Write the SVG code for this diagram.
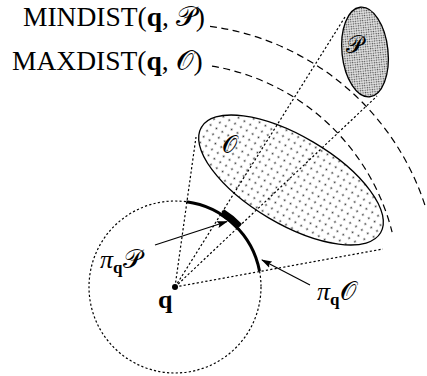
<svg xmlns="http://www.w3.org/2000/svg" width="427" height="376" viewBox="0 0 427 376">
<style>
.dot{fill:none;stroke:#000;stroke-width:1.2;stroke-dasharray:2.2 2.2}
.dash{fill:none;stroke:#000;stroke-width:1.2;stroke-dasharray:7 4.5}
.shape{stroke:#000;stroke-width:1.3}
.arrow{fill:none;stroke:#000;stroke-width:1.2}
.t{font-family:"Liberation Serif","DejaVu Serif",serif;fill:#000}
.cal{font-family:"DejaVu Serif","DejaVu Sans","Noto Sans",serif;font-style:normal;font-weight:normal}
.b{font-weight:bold;font-style:normal}
.i{font-style:italic}
</style>
<defs>
<pattern id="sparse" width="6.8" height="6.8" patternUnits="userSpaceOnUse">
<rect width="6.8" height="6.8" fill="#fff"/>
<circle cx="3.4" cy="3.4" r="0.9" fill="#333"/>
</pattern>
<pattern id="dense" width="2.4" height="2.4" patternUnits="userSpaceOnUse">
<rect width="2.4" height="2.4" fill="#e2e2e2"/>
<circle cx="1.2" cy="1.2" r="0.7" fill="#4a4a4a"/>
</pattern>
<marker id="ah" markerWidth="11" markerHeight="8" refX="10" refY="4" orient="auto" markerUnits="userSpaceOnUse">
<path d="M0,0.5 L11,4 L0,7.5 L2,4 Z" fill="#000"/>
</marker>
</defs>

<g id="shapeP">
<ellipse class="shape" cx="365" cy="52" rx="23" ry="45" transform="rotate(-6 365 52)" fill="url(#dense)"/>
</g>
<g id="shapeO">
<ellipse class="shape" cx="291" cy="180" rx="104" ry="44" transform="rotate(30.5 291 180)" fill="url(#sparse)"/>
</g>
<g id="circleQ">
<circle class="dot" cx="175" cy="287" r="86"/>
</g>

<g id="connectors">
<path class="dash" d="M210,26.3 A263,263 0 0 1 425.8,207.9"/>
<path class="dash" d="M212,66.1 A224,224 0 0 1 392.1,232.1"/>
<line class="dot" x1="175" y1="287" x2="196" y2="137"/>
<line class="dot" x1="175" y1="287" x2="345" y2="17"/>
<line class="dot" x1="175" y1="287" x2="377" y2="96"/>
<line class="dot" x1="175" y1="287" x2="383" y2="249"/>
<path d="M186.4,201.8 A86,86 0 0 1 259.5,271.0" fill="none" stroke="#000" stroke-width="3"/>
<path d="M220.0,215.5 L224.0,209.2 A92,92 0 0 1 242.0,223.9 L236.5,229.0 A84.5,84.5 0 0 0 220.0,215.5 Z" fill="#000"/>
<line class="arrow" x1="155" y1="245" x2="227" y2="221.5" marker-end="url(#ah)"/>
<line class="arrow" x1="310" y1="285" x2="262" y2="260" marker-end="url(#ah)"/>
</g>

<g id="pointQ">
<circle cx="175" cy="287" r="3" fill="#000"/>
<text class="t b" x="158" y="308" font-size="26">q</text>
</g>

<g id="labels">
<text class="t" x="23" y="26" font-size="27.5">MINDIST(<tspan class="b">q</tspan>, <tspan class="cal">𝒫</tspan>)</text>
<text class="t" x="12" y="70" font-size="27.5">MAXDIST(<tspan class="b">q</tspan>, <tspan class="cal">𝒪</tspan>)</text>
<text class="t cal" x="222" y="153" font-size="24">𝒪</text>
<text class="t cal" x="346" y="53" font-size="24">𝒫</text>
<text class="t" x="100" y="268" font-size="26"><tspan class="i">π</tspan><tspan class="b" font-size="17" dy="5">q</tspan><tspan class="cal" dy="-5">𝒫</tspan></text>
<text class="t" x="317" y="300" font-size="26"><tspan class="i">π</tspan><tspan class="b" font-size="17" dy="5">q</tspan><tspan class="cal" dy="-5">𝒪</tspan></text>
</g>
</svg>
